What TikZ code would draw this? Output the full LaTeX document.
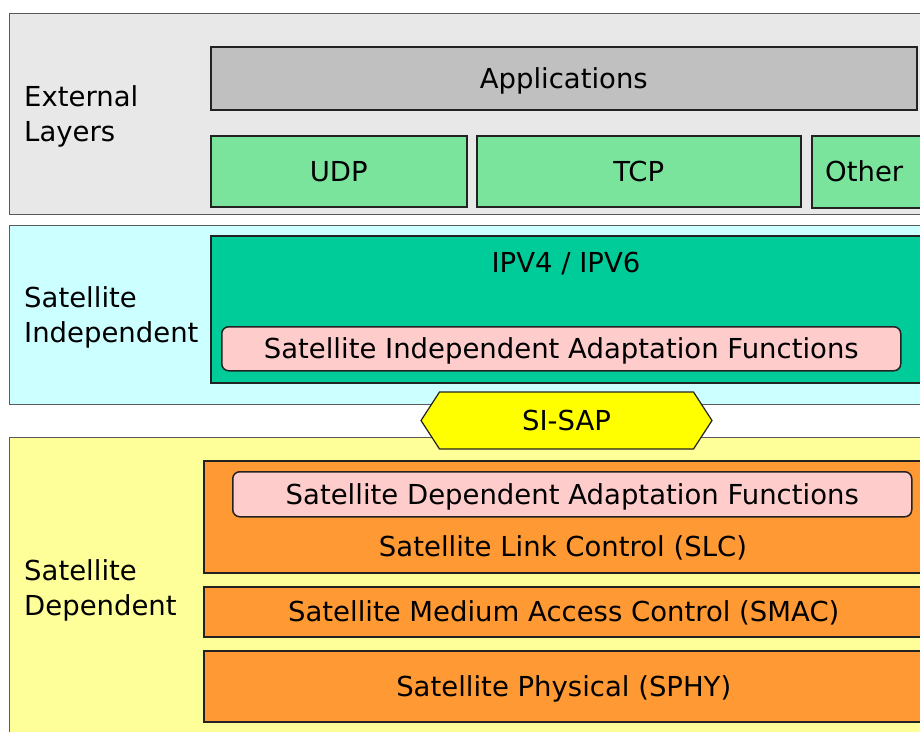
\documentclass[tikz,border=0pt]{standalone}
\usepackage{fontspec}
\setmainfont{DejaVu Sans}
\usetikzlibrary{shapes.symbols}
\definecolor{extbg}{RGB}{232,232,232}
\definecolor{appgray}{RGB}{192,192,192}
\definecolor{protgreen}{RGB}{122,227,156}
\definecolor{sibg}{RGB}{204,255,255}
\definecolor{ipgreen}{RGB}{0,204,153}
\definecolor{afpink}{RGB}{255,204,204}
\definecolor{sdbg}{RGB}{255,255,153}
\definecolor{slorange}{RGB}{255,153,51}
\definecolor{saproyellow}{RGB}{255,255,0}
\definecolor{outline}{RGB}{34,34,34}
\definecolor{outerline}{RGB}{90,90,90}
\tikzset{
  every node/.style={font=\fontsize{27.5}{35}\selectfont, inner sep=0pt, text=black},
  txt/.style={text height=22pt, text depth=2pt},
  outerbox/.style={draw=outerline, line width=1pt, anchor=north west},
  innerbox/.style={draw=outline, line width=1.5pt, anchor=north west, txt},
  afbox/.style={innerbox, fill=afpink, rounded corners=7pt},
  sidelabel/.style={anchor=west, align=left},
}
\begin{document}
\begin{tikzpicture}[x=1pt, y=-1pt]
\useasboundingbox (0,0) rectangle (920,731);
\fill[white] (0,0) rectangle (920,731);
\clip (0,0) rectangle (920,731);
% External layers
\node[outerbox, fill=extbg, minimum width=940pt, minimum height=201pt] (ext) at (9,13) {};
\node[sidelabel] (extlabel) at (24,116) {External\\Layers};
\node[innerbox, fill=appgray, minimum width=706pt, minimum height=63pt] (app) at (210,46) {Applications};
\node[innerbox, fill=protgreen, minimum width=256pt, minimum height=71pt] (udp) at (210,135) {UDP};
\node[innerbox, fill=protgreen, minimum width=324pt, minimum height=71pt] (tcp) at (476,135) {TCP};
\node[innerbox, fill=protgreen, minimum width=200pt, minimum height=72pt] (other) at (811,135) {};
\node[anchor=west, txt] (othertext) at (825,171) {Other};
% Satellite independent
\node[outerbox, fill=sibg, minimum width=940pt, minimum height=179pt] (si) at (9,225) {};
\node[sidelabel] (silabel) at (24,317) {Satellite\\Independent};
\node[innerbox, fill=ipgreen, minimum width=712pt, minimum height=147pt] (ip) at (210,235) {};
\node[txt] (iptext) at (566,262) {IPV4 / IPV6};
\node[afbox, minimum width=679pt, minimum height=44pt] (siaf) at (221,326) {Satellite Independent Adaptation Functions};
% Satellite dependent
\node[outerbox, fill=sdbg, minimum width=940pt, minimum height=320pt] (sd) at (9,437) {};
\node[sidelabel] (sdlabel) at (24,590) {Satellite\\Dependent};
\node[innerbox, fill=slorange, minimum width=720pt, minimum height=112pt] (slc) at (203,460) {};
\node[afbox, minimum width=679pt, minimum height=45pt] (sdaf) at (232,471) {Satellite Dependent Adaptation Functions};
\node[txt] (slctext) at (563,546) {Satellite Link Control (SLC)};
\node[innerbox, fill=slorange, minimum width=720pt, minimum height=50pt] (smac) at (203,586) {Satellite Medium Access Control (SMAC)};
\node[innerbox, fill=slorange, minimum width=720pt, minimum height=71pt] (sphy) at (203,650) {Satellite Physical (SPHY)};
% SI-SAP
\node[signal, signal to=west and east, signal pointer angle=114, draw=outline, line width=1.2pt, fill=saproyellow, minimum width=291pt, minimum height=57pt, txt] (sap) at (566.5,420.5) {SI-SAP};
\end{tikzpicture}
\end{document}
